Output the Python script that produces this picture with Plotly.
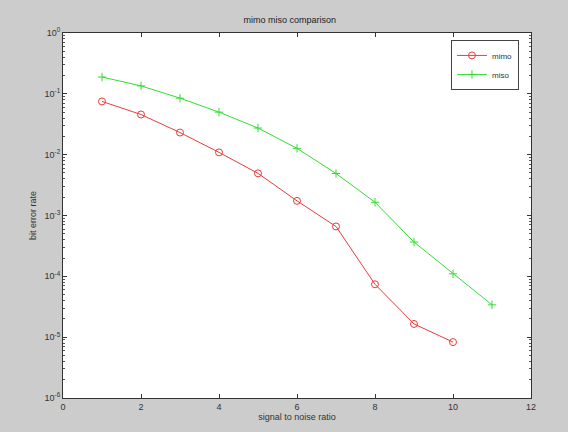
import plotly.graph_objects as go

snr_mimo = [1, 2, 3, 4, 5, 6, 7, 8, 9, 10]
ber_mimo = [0.075, 0.0457, 0.0231, 0.0109, 0.00493, 0.00174, 6.6e-4, 7.4e-5, 1.65e-5, 8.3e-6]
snr_miso = [1, 2, 3, 4, 5, 6, 7, 8, 9, 10, 11]
ber_miso = [0.189, 0.135, 0.085, 0.050, 0.0274, 0.0127, 0.0049, 0.00165, 3.66e-4, 1.1e-4, 3.4e-5]

y_tickvals = [1e-6, 1e-5, 1e-4, 1e-3, 1e-2, 1e-1, 1]
y_ticktext = ["10<sup>-6</sup>", "10<sup>-5</sup>", "10<sup>-4</sup>", "10<sup>-3</sup>",
              "10<sup>-2</sup>", "10<sup>-1</sup>", "10<sup>0</sup>"]
x_tickvals = [0, 2, 4, 6, 8, 10, 12]

fig = go.Figure()
fig.add_trace(go.Scatter(x=snr_mimo, y=ber_mimo, name="mimo", mode="lines+markers",
                         line=dict(color="#ec3b3b", width=1),
                         marker=dict(symbol="circle-open", size=7, color="#ec3b3b", line=dict(width=1))))
fig.add_trace(go.Scatter(x=snr_miso, y=ber_miso, name="miso", mode="lines+markers",
                         line=dict(color="#33dd33", width=1),
                         marker=dict(symbol="cross-thin-open", size=6, color="#33dd33", line=dict(width=1, color="#33dd33"))))

axis_font = dict(family="Liberation Sans, Arial, sans-serif", size=9, color="#333333")
fig.update_layout(
    width=568, height=432,
    paper_bgcolor="#cccccc", plot_bgcolor="white",
    margin=dict(l=63, r=37, t=33, b=29),
    title=dict(text="mimo miso comparison", x=0.51, xanchor="center", y=0.955, yanchor="middle",
               font=dict(family="Liberation Sans, Arial, sans-serif", size=9, color="#222222")),
    showlegend=True,
    legend=dict(x=0.829, y=0.981, xanchor="left", yanchor="top", bgcolor="white",
                bordercolor="#444444", borderwidth=1,
                font=dict(family="Liberation Sans, Arial, sans-serif", size=8, color="#333333"),
                itemwidth=30, tracegroupgap=0),
    xaxis=dict(range=[0, 12], tickvals=x_tickvals, ticks="inside", ticklen=4, tickcolor="#333333",
               showgrid=False, zeroline=False, showline=True, linecolor="#333333", linewidth=1,
               mirror="allticks", tickfont=axis_font,
               title=dict(text="signal to noise ratio", font=axis_font, standoff=2)),
    yaxis=dict(type="log", range=[-6, 0], tickvals=y_tickvals, ticktext=y_ticktext,
               ticks="inside", ticklen=4, tickcolor="#333333",
               minor=dict(ticks="inside", ticklen=2, tickcolor="#555555", dtick="D1", showgrid=False),
               showgrid=False, zeroline=False, showline=True, linecolor="#333333", linewidth=1,
               mirror="allticks", tickfont=axis_font,
               title=dict(text="bit error rate", font=axis_font, standoff=6)),
)

fig.write_html("out.html")
